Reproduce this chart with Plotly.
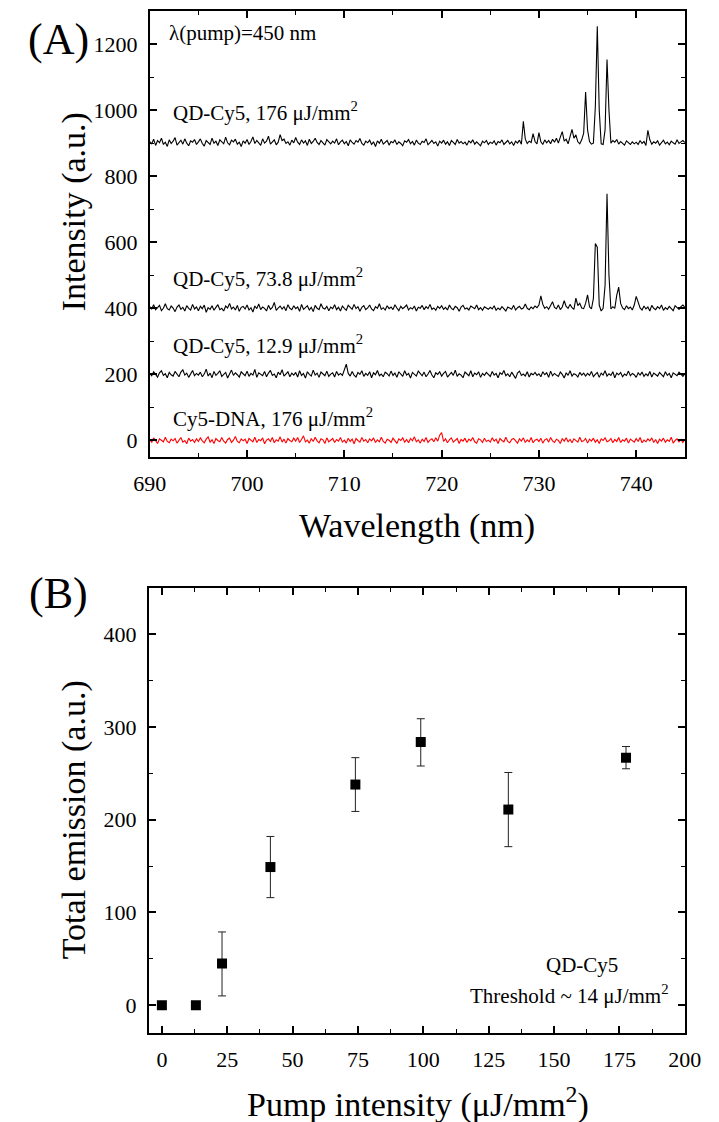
import numpy as np
import plotly.graph_objects as go

# ---------------- data: panel A (spectra) ----------------
wl_start, wl_stop, wl_step = 690.0, 745.0, 0.2
wavelength = np.round(np.arange(wl_start, wl_stop + 0.01, wl_step), 1)

cy5_dna_176 = [
    3, -6, 8, -2, -9, 5, 1, -4, 10, -3, -7, 4, -1, 6, -8, 2, 9, -5, 0, -10, 7, -2, 3, -6, 5,
    -3, 8, -1, -7, 4, 11, -5, 2, -9, 6, 0, -4, 9, -2, -8, 3, 7, -6, 1, 12, -3, -7, 5, -1, 4,
    -9, 6, 2, -4, 10, -6, 3, -1, 8, -10, 1, 5, -3, 9, -7, 2, -2, 11, -5, 4, -8, 6, 0, -4, 7,
    -2, 9, -6, 3, 14, -4, 1, -8, 6, -3, 10, -1, -7, 5, 2, -9, 8, -4, 0, 6, -6, 3, -2, 9, -5,
    1, -8, 7, -3, 4, -10, 6, 0, -5, 9, -2, 3, -7, 5, -1, 8, -6, 2, -4, 10, -3, -8, 4, 1, -6,
    7, -2, -9, 5, 0, 8, -5, 3, -7, 6, -1, 11, -4, 2, -8, 4, -3, 9, -6, 1, 5, -4, 8, -2, 16,
    24, -3, 5, -7, 2, 8, -5, 0, 6, -9, 3, -2, 7, -6, 4, -1, 9, -4, -8, 5, 2, -6, 7, -3, 1,
    -5, 8, -2, 4, -9, 6, 0, -4, 10, -3, -7, 3, 6, -1, -8, 5, -2, 8, -6, 2, -4, 9, -7, 1, 4,
    -3, 7, -8, 2, 5, -5, 9, -1, -6, 4, 0, -9, 6, -2, 8, -4, 3, -7, 5, 1, -5, 10, -3, -1, 6,
    -8, 4, -2, 7, -5, 2, -9, 5, 0, 8, -4, -1, 6, -7, 3, -3, 9, -6, 2, -2, 7, -8, 4, 0, -5,
    6, -3, 9, -7, 1, -4, 5, -1, 8, -6, 3, -9, 4, -2, 7, -5, 2, -3, 10, -8, 0, 5, -4, 3, -6,
    2,
]

qd_cy5_12_9 = [
    203, 196, 208, 199, 192, 205, 211, 197, 202, 190, 206, 199, 195, 209, 201, 193, 207, 214, 198, 204, 191, 200, 212, 196, 203,
    198, 207, 193, 201, 216, 195, 204, 190, 209, 197, 203, 211, 194, 200, 206, 189, 202, 213, 197, 205, 199, 192, 208, 201, 196,
    210, 194, 203, 198, 215, 191, 205, 200, 196, 209, 193, 204, 212, 197, 201, 190, 207, 199, 214, 195, 202, 208, 193, 204, 198,
    206, 192, 211, 197, 203, 189, 208, 200, 195, 213, 198, 204, 191, 207, 202, 196, 210, 194, 201, 205, 192, 209, 198, 203, 197,
    214, 231, 203, 195, 209, 198, 192, 206, 200, 211, 194, 203, 197, 208, 190, 205, 199, 212, 196, 201, 193, 207, 202, 195, 210,
    197, 204, 191, 208, 200, 194, 211, 198, 203, 189, 206, 199, 195, 210, 202, 196, 207, 193, 201, 212, 198, 190, 205, 200, 208,
    195, 203, 209, 192, 200, 206, 197, 213, 194, 202, 198, 190, 207, 201, 196, 211, 193, 204, 199, 208, 191, 203, 197, 206, 200,
    194, 209, 198, 203, 190, 205, 200, 212, 196, 202, 193, 207, 199, 188, 204, 210, 197, 201, 195, 208, 192, 203, 199, 206, 197,
    202, 193, 208, 199, 205, 191, 210, 196, 203, 198, 194, 207, 200, 189, 205, 197, 211, 195, 202, 199, 192, 206, 198, 204, 195,
    203, 197, 209, 193, 200, 206, 191, 204, 198, 211, 195, 202, 197, 208, 190, 204, 199, 206, 193, 201, 197, 210, 196, 203, 199,
    191, 205, 198, 207, 194, 202, 196, 209, 192, 204, 199, 195, 206, 200, 193, 208, 197, 203, 190, 205, 199, 196, 207, 201, 194,
    202,
]

qd_cy5_73_8 = [
    405, 398, 411, 396, 402, 409, 393, 400, 414, 399, 395, 407, 401, 390, 404, 410, 397, 403, 392, 408, 400, 395, 412, 398, 404,
    393, 406, 399, 410, 388, 402, 397, 408, 394, 403, 411, 396, 400, 392, 407, 401, 415, 398, 404, 395, 409, 391, 403, 406, 398,
    410, 395, 402, 389, 407, 399, 413, 396, 404, 400, 392, 409, 397, 403, 418, 394, 401, 407, 398, 405, 393, 411, 400, 396, 408,
    399, 404, 391, 412, 397, 402, 408, 395, 403, 390, 409, 400, 396, 414, 401, 398, 406, 393, 404, 399, 411, 396, 403, 392, 407,
    400, 394, 409, 402, 397, 412, 399, 405, 391, 403, 408, 396, 401, 410, 398, 393, 405, 400, 414, 397, 402, 395, 408, 399, 404,
    396, 411, 401, 393, 406, 399, 404, 410, 395, 402, 398, 407, 392, 403, 400, 409, 396, 405, 399, 412, 397, 401, 394, 406, 400,
    408, 397, 403, 395, 410, 400, 396, 406, 402, 391, 404, 409, 398, 401, 395, 407, 403, 399, 410, 396, 402, 394, 405, 400, 397,
    403, 398, 408, 394, 401, 396, 405, 399, 392, 404, 400, 397, 409, 395, 402, 406, 398, 401, 413, 400, 396, 404, 399, 407, 402,
    410, 438, 412, 400, 405, 397, 408, 420, 403, 399, 410, 396, 404, 423, 406, 400, 412, 402, 397, 431, 408, 415, 401, 399, 415,
    441, 405, 398, 430, 596, 585, 410, 392, 400, 470, 747, 500, 398, 405, 400, 440, 464, 415, 401, 396, 408, 399, 404, 395, 410,
    436, 420, 401, 395, 407, 398, 404, 392, 409, 400, 396, 405, 399, 410, 394, 402, 397, 406, 400, 393, 408, 401, 397, 405, 410,
    404,
]

qd_cy5_176 = [
    905, 898, 912, 893, 908, 901, 915, 896, 903, 890, 910, 899, 906, 917, 894, 902, 909, 897, 913, 900, 892, 907, 903, 911, 896,
    904, 913, 899, 891, 908, 902, 896, 915, 900, 906, 893, 910, 903, 898, 918, 901, 895, 909, 904, 912, 897, 903, 890, 907, 900,
    911, 896, 905, 919, 899, 908, 902, 893, 913, 900, 906, 921, 897, 904, 910, 895, 903, 926, 908, 912, 899, 904, 894, 909, 901,
    917, 903, 896, 910, 900, 907, 893, 912, 899, 905, 915, 902, 896, 908, 901, 894, 911, 903, 898, 906, 900, 913, 895, 904, 909,
    898, 905, 892, 910, 902, 897, 908, 903, 914, 899, 894, 906, 901, 909, 896, 904, 890, 907, 900, 912, 897, 903, 908, 894, 905,
    901, 910, 896, 904, 899, 892, 907, 903, 911, 898, 905, 894, 909, 900, 896, 906, 902, 913, 895, 903, 908, 899, 904, 891, 906,
    900, 909, 897, 904, 893, 908, 902, 896, 911, 900, 905, 898, 903, 894, 907, 901, 910, 897, 904, 899, 892, 906, 901, 908, 896,
    903, 899, 907, 894, 905, 901, 910, 896, 902, 908, 898, 904, 893, 906, 900, 909, 897, 966, 912, 899, 906, 902, 929, 905, 898,
    932, 904, 896, 910, 901, 908, 898, 912, 903, 915, 900, 918, 935, 906, 912, 898, 920, 942, 915, 925, 904, 898, 910, 930, 1055,
    940, 905, 897, 900, 1010, 1254, 1000, 898, 896, 940, 1153, 1000, 900, 908, 903, 911, 897, 905, 900, 894, 907, 901, 896, 904, 898,
    903, 896, 908, 899, 905, 893, 939, 910, 897, 904, 900, 907, 894, 902, 909, 898, 903, 895, 906, 901, 897, 910, 899, 904, 908,
    902,
]

# ---------------- data: panel B (total emission) ----------------
pump_intensity = [0, 13, 23, 41.5, 74, 99, 132.5, 177.5]
total_emission = [0, 0, 45, 149, 238, 284, 211, 267]
err_plus = [0, 0, 34, 33, 29, 25, 40, 12]
err_minus = [0, 0, 35, 33, 29, 26, 40, 12]

# ---------------- figure ----------------
W, H = 719, 1122
FONT = "Liberation Serif, Times New Roman, serif"


def px(x):
    return x / W


def py(y):
    return 1 - y / H


fig = go.Figure()

spectra = [
    (cy5_dna_176, "#ff0000"),
    (qd_cy5_12_9, "black"),
    (qd_cy5_73_8, "black"),
    (qd_cy5_176, "black"),
]
for ys, col in spectra:
    fig.add_trace(go.Scatter(
        x=wavelength, y=ys, mode="lines",
        line=dict(color=col, width=1.1),
        xaxis="x", yaxis="y", showlegend=False, hoverinfo="skip",
    ))

fig.add_trace(go.Scatter(
    x=pump_intensity, y=total_emission, mode="markers",
    marker=dict(symbol="square", size=10, color="black"),
    error_y=dict(type="data", array=err_plus, arrayminus=err_minus,
                 color="#222222", thickness=1, width=4),
    xaxis="x2", yaxis="y2", showlegend=False,
))

common = dict(
    showline=True, linecolor="black", linewidth=1.8, mirror="ticks",
    ticks="inside", ticklen=7, tickwidth=1.5, tickcolor="black",
    showgrid=False, zeroline=False,
    tickfont=dict(family=FONT, size=22, color="black"),
    ticklabelstandoff=6,
    minor=dict(ticks="inside", ticklen=4, tickwidth=1, tickcolor="black", showgrid=False),
)

fig.update_layout(
    width=W, height=H,
    margin=dict(l=0, r=0, t=0, b=0),
    paper_bgcolor="white", plot_bgcolor="white",
    xaxis=dict(common, domain=[px(140), px(700)], range=[690, 745], anchor="y",
               tick0=690, dtick=10, minor=dict(common["minor"], dtick=5)),
    yaxis=dict(common, domain=[py(457), py(11)], range=[-50, 1300], anchor="x",
               tick0=0, dtick=200, minor=dict(common["minor"], dtick=100)),
    xaxis2=dict(common, domain=[px(139), px(700)], range=[-5, 200], anchor="y2",
                tick0=0, dtick=25, minor=dict(common["minor"], dtick=12.5)),
    yaxis2=dict(common, domain=[py(1033), py(588)], range=[-30, 450], anchor="x2",
                tick0=0, dtick=100, minor=dict(common["minor"], dtick=50)),
)

ann = []


def add_text(text, x, y, size, xref="paper", yref="paper", angle=0, xanchor="center"):
    ann.append(dict(text=text, x=x, y=y, xref=xref, yref=yref, showarrow=False,
                    textangle=angle, xanchor=xanchor, yanchor="middle",
                    font=dict(family=FONT, size=size, color="black")))


# panel labels
add_text("(A)", px(44), py(40), 44)
add_text("(B)", px(44), py(593), 44)
# axis titles
add_text("Intensity (a.u.)", px(61), py(212), 34, angle=-90)
add_text("Wavelength (nm)", px(420), py(526), 34)
add_text("Total emission (a.u.)", px(61), py(820), 34, angle=-90)
add_text("Pump intensity (μJ/mm<sup>2</sup>)", px(421), py(1102), 34)
# panel A inner labels
add_text("λ(pump)=450 nm", 691.8, 1232, 21, "x", "y", xanchor="left")
add_text("QD-Cy5, 176 μJ/mm<sup>2</sup>", 692.2, 995, 21, "x", "y", xanchor="left")
add_text("QD-Cy5, 73.8 μJ/mm<sup>2</sup>", 692.2, 494, 21, "x", "y", xanchor="left")
add_text("QD-Cy5, 12.9 μJ/mm<sup>2</sup>", 692.2, 290, 21, "x", "y", xanchor="left")
add_text("Cy5-DNA, 176 μJ/mm<sup>2</sup>", 692.2, 71, 21, "x", "y", xanchor="left")
# panel B inner labels
add_text("QD-Cy5", 160.5, 43, 21, "x2", "y2")
add_text("Threshold ~ 14 μJ/mm<sup>2</sup>", 156, 11, 21, "x2", "y2")

fig.update_layout(annotations=ann)

fig.write_html("out.html")
